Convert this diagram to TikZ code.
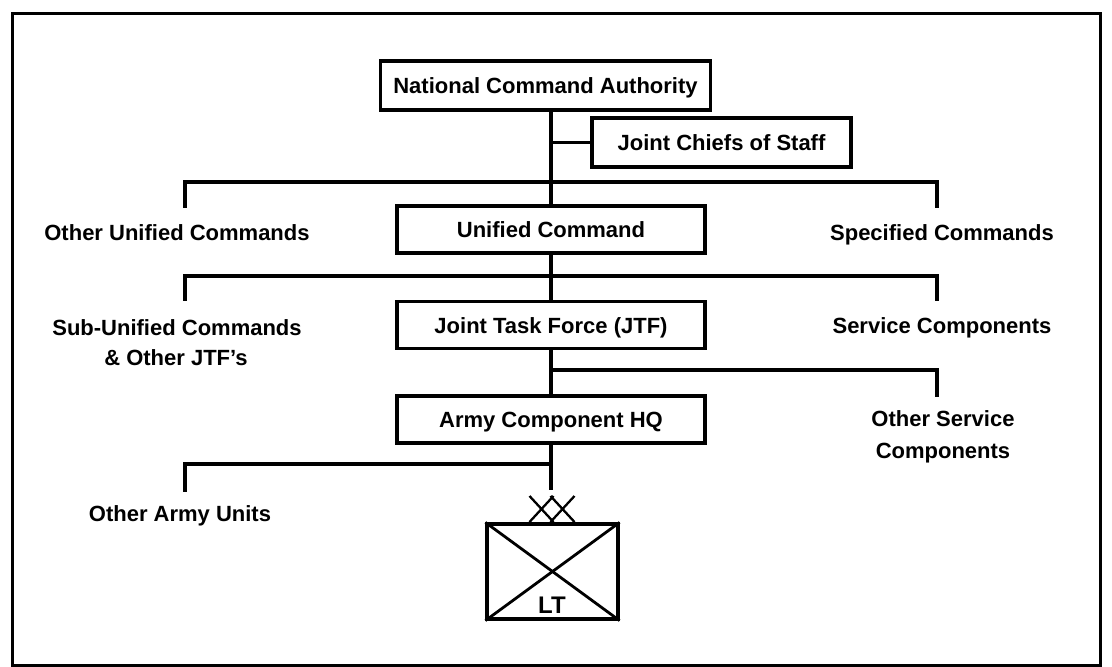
\documentclass[tikz,border=0pt]{standalone}
\usepackage{fontspec}
\setmainfont{Liberation Sans}
\newcommand\orgfont{\fontsize{22}{26}\selectfont\bfseries}
\newcommand\ltfont{\fontsize{24}{28}\selectfont\bfseries}
\begin{document}
\begin{tikzpicture}[x=1pt,y=-1pt,
  box/.style={draw, line width=3.2pt, minimum width=308pt, minimum height=47pt,
              inner sep=0pt, text height=16pt, text depth=0pt, font=\orgfont},
  lbl/.style={anchor=base, inner sep=0pt, font=\orgfont},
  conn/.style={line width=3.2pt, line join=miter, line cap=rect}]
\useasboundingbox (0,0) rectangle (1112,667);
% frame
\draw[line width=3pt] (12,13) rectangle (1100,665);
% boxes
\node[box, minimum width=330pt, minimum height=49pt] (nca) at (545.5,85.5) {National Command Authority};
\node[box, minimum width=259pt, minimum height=49pt] (jcs) at (721.5,142.5) {Joint Chiefs of Staff};
\node[box] (uc)  at (551,229.5) {Unified Command};
\node[box] (jtf) at (551,325)   {Joint Task Force (JTF)};
\node[box] (ahq) at (551,419.5) {Army Component HQ};
% side labels
\node[lbl] (ouc)  at (177,240) {Other Unified Commands};
\node[lbl] (spc)  at (942,240) {Specified Commands};
\node[lbl] (suc1) at (177,335) {Sub-Unified Commands};
\node[lbl] (suc2) at (176,365) {\& Other JTF's};
\node[lbl] (svc)  at (942,333) {Service Components};
\node[lbl] (osc1) at (943,426) {Other Service};
\node[lbl] (osc2) at (943,458) {Components};
\node[lbl] (oau)  at (180,521) {Other Army Units};
% spine
\draw[conn] (nca.south -| uc.north) -- (uc.north);
\draw[conn] (jcs.west) -- (jcs.west -| uc.north);
\draw[conn] (uc.south) -- (jtf.north);
\draw[conn] (jtf.south) -- (ahq.north);
\coordinate (sp) at (551,488);
\draw[conn] (ahq.south) -- (sp);
% branch 1
\coordinate (b1l) at (185,182); \coordinate (b1r) at (937,182);
\coordinate (t1l) at (185,206); \coordinate (t1r) at (937,206);
\draw[conn] (t1l) -- (b1l) -- (b1r) -- (t1r);
% branch 2
\coordinate (b2l) at (185,276); \coordinate (b2r) at (937,276);
\coordinate (t2l) at (185,299); \coordinate (t2r) at (937,299);
\draw[conn] (t2l) -- (b2l) -- (b2r) -- (t2r);
% branch 3
\coordinate (b3c) at (551,370); \coordinate (b3r) at (937,370);
\coordinate (t3r) at (937,395);
\draw[conn] (b3c) -- (b3r) -- (t3r);
% branch 4
\coordinate (b4c) at (551,464); \coordinate (b4l) at (185,464);
\coordinate (t4l) at (185,490);
\draw[conn] (b4c) -- (b4l) -- (t4l);
% unit symbol
\node[draw, line width=3.2pt, minimum width=131pt, minimum height=95pt, inner sep=0pt] (unit) at (552.5,571.5) {};
\draw[line width=2.8pt] (unit.north west) -- (unit.south east);
\draw[line width=2.8pt] (unit.south west) -- (unit.north east);
\node[lbl, font=\ltfont] (lt) at (552,613) {LT};
\draw[line width=2.3pt] (529.5,496) -- (553.5,522) (529.5,522) -- (553.5,496)
                        (550.5,496) -- (574.5,522) (550.5,522) -- (574.5,496);
\end{tikzpicture}
\end{document}
